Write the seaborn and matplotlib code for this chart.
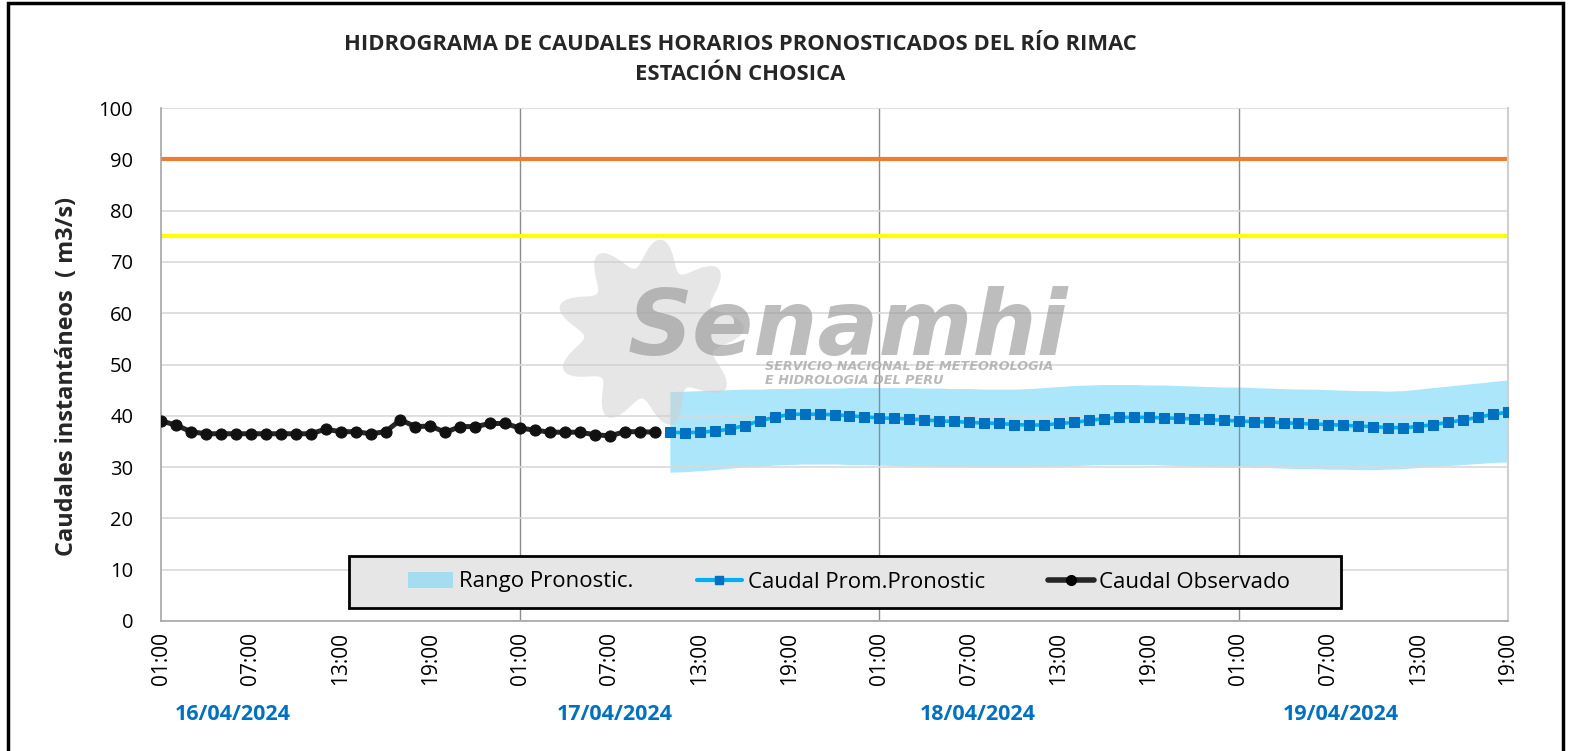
import numpy as np
import pandas as pd
import matplotlib
matplotlib.use("Agg")
import matplotlib.pyplot as plt
import matplotlib.transforms as mtransforms
from matplotlib.patches import Rectangle, Patch, Polygon
from matplotlib.lines import Line2D
import seaborn as sns

# ---------------- data ----------------
hour_labels = ["01:00", "07:00", "13:00", "19:00"]
date_labels = ["16/04/2024", "17/04/2024", "18/04/2024", "19/04/2024"]

caudal_observado = [39.0, 38.2, 36.9, 36.5, 36.5, 36.5, 36.5, 36.5, 36.5, 36.5,
                    36.5, 37.4, 36.9, 36.9, 36.5, 36.9, 39.2, 37.9, 38.0, 36.8,
                    37.9, 37.9, 38.5, 38.5, 37.6, 37.2, 36.8, 36.8, 36.8, 36.3,
                    36.1, 36.9, 36.9, 36.8]

caudal_pronostico = [36.8, 36.7, 36.8, 37.0, 37.4, 38.1, 39.0, 39.7,
                     40.3, 40.3, 40.3, 40.2, 40.0, 39.8, 39.6, 39.5,
                     39.4, 39.2, 39.0, 38.9, 38.7, 38.6, 38.5, 38.3,
                     38.2, 38.2, 38.5, 38.7, 39.1, 39.4, 39.7, 39.7,
                     39.7, 39.6, 39.5, 39.4, 39.3, 39.1, 39.0, 38.85,
                     38.8, 38.65, 38.5, 38.4, 38.3, 38.15, 38.0, 37.9,
                     37.7, 37.7, 37.9, 38.3, 38.7, 39.2, 39.7, 40.3, 40.7]

rango_superior = [44.7, 44.8, 44.9, 45.0, 45.1, 45.2, 45.2, 45.3,
                  45.3, 45.4, 45.4, 45.4, 45.5, 45.5, 45.5, 45.5,
                  45.5, 45.4, 45.4, 45.3, 45.3, 45.2, 45.2, 45.2,
                  45.3, 45.5, 45.7, 45.9, 46.0, 46.1, 46.1, 46.1,
                  46.0, 46.0, 45.9, 45.8, 45.7, 45.6, 45.6, 45.5,
                  45.4, 45.3, 45.2, 45.2, 45.1, 45.0, 44.9, 44.9,
                  44.8, 44.9, 45.2, 45.5, 45.8, 46.1, 46.4, 46.7, 47.0]

rango_inferior = [29.0, 29.1, 29.3, 29.5, 29.8, 30.0, 30.2, 30.4,
                  30.5, 30.6, 30.6, 30.6, 30.5, 30.5, 30.4, 30.3,
                  30.2, 30.2, 30.1, 30.1, 30.0, 30.0, 30.0, 30.0,
                  30.0, 30.1, 30.2, 30.3, 30.4, 30.5, 30.5, 30.5,
                  30.5, 30.4, 30.3, 30.2, 30.1, 30.0, 30.0, 29.9,
                  29.9, 29.8, 29.7, 29.7, 29.6, 29.6, 29.5, 29.5,
                  29.6, 29.7, 29.9, 30.1, 30.3, 30.5, 30.7, 30.9, 31.0]

umbral_naranja = 90
umbral_amarillo = 75

# ---------------- style ----------------
sns.set_theme(style="whitegrid")
plt.rcParams['font.family'] = ['Open Sans', 'DejaVu Sans']

W, H = 1569, 751
fig = plt.figure(figsize=(W / 100, H / 100), dpi=100)
fig.patch.set_facecolor("white")
ax = fig.add_axes([161 / W, 1 - 621 / H, (1508 - 161) / W, (621 - 108) / H])
ax.set_facecolor("white")

t_obs = np.arange(len(caudal_observado))
t_pro = np.arange(len(caudal_observado), len(caudal_observado) + len(caudal_pronostico))
df_obs = pd.DataFrame({"t": t_obs, "q": caudal_observado})
df_pro = pd.DataFrame({"t": t_pro, "q": caudal_pronostico})
n_total = len(caudal_observado) + len(caudal_pronostico) - 1

band_color = "#ABE6FB"
ax.fill_between(t_pro, rango_inferior, rango_superior, color=band_color, lw=0, zorder=1)

ax.axhline(umbral_naranja, color="#ED7D31", lw=3, zorder=2)
ax.axhline(umbral_amarillo, color="#FFFF00", lw=3, zorder=2)

sns.lineplot(data=df_pro, x="t", y="q", ax=ax, color="#00B0F0", lw=2.6,
             marker="s", markersize=6.5, markerfacecolor="#0070C0",
             markeredgecolor="#0070C0", zorder=4)
sns.lineplot(data=df_obs, x="t", y="q", ax=ax, color="#262626", lw=3.6,
             marker="o", markersize=8, markerfacecolor="#111111",
             markeredgecolor="#111111", zorder=5)

# axes
ax.set_xlim(0, n_total)
ax.set_ylim(0, 100)
ax.set_yticks(np.arange(0, 101, 10))
xt = np.arange(0, n_total + 1, 6)
ax.set_xticks(xt)
ax.set_xticklabels([hour_labels[i % 4] for i in range(len(xt))], rotation=90)
ax.set_xticks(np.arange(0, n_total + 1, 12), minor=True)
ax.tick_params(axis="x", which="major", length=0, pad=8, labelsize=15, colors="black")
ax.tick_params(axis="x", which="minor", length=6, width=1, color="#A0A0A0", direction="out")
ax.tick_params(axis="y", length=0, pad=20, labelsize=14.5, colors="black")
ax.set_xlabel("")
ax.set_ylabel("")

ax.grid(False)
ax.yaxis.grid(True, color="#D9D9D9", lw=1.2)
ax.set_axisbelow("line")
for d in range(1, len(date_labels)):
    ax.axvline(d * 24, color="#8C8C8C", lw=1, zorder=1.5)

for s in ["left", "bottom"]:
    ax.spines[s].set_visible(True)
    ax.spines[s].set_color("#A6A6A6")
    ax.spines[s].set_linewidth(1.2)
ax.spines["right"].set_visible(True)
ax.spines["right"].set_color("#D0D0D0")
ax.spines["right"].set_linewidth(1.5)
ax.spines["top"].set_visible(False)

# date labels under the hour labels
trans = mtransforms.blended_transform_factory(ax.transData, fig.transFigure)
date_pos = [4.8, 30.3, 54.6, 78.8]
for x, lab in zip(date_pos, date_labels):
    ax.text(x, 1 - 714 / H, lab, transform=trans, ha="center", va="center",
            fontsize=15.5, fontweight="bold", color="#0070C0")

# titles
fig.text(740 / W, 1 - 45 / H, "HIDROGRAMA DE CAUDALES HORARIOS PRONOSTICADOS DEL RÍO RIMAC",
         ha="center", va="center", fontsize=15.8, fontweight="bold")
fig.text(740 / W, 1 - 75 / H, "ESTACIÓN CHOSICA", ha="center", va="center",
         fontsize=15.8, fontweight="bold")
fig.text(67 / W, 1 - 376 / H, "Caudales instantáneos  ( m3/s)", rotation=90,
         ha="center", va="center", fontsize=16.9, fontweight="bold")

# watermark (logo)
cx, cy = 650, 333
theta = np.linspace(0, 2 * np.pi, 400)
r = 80 + 14 * np.cos(9 * theta + 0.5)
pts = np.column_stack([(cx + r * np.cos(theta)) / W, 1 - (cy + r * np.sin(theta)) / H])
fig.patches.append(Polygon(pts, closed=True, transform=fig.transFigure,
                           facecolor="#CFCFCF", edgecolor="none", alpha=0.5, zorder=6))
fig.text(848 / W, 1 - 355 / H, "Senamhi", ha="center", va="baseline", fontsize=65,
         family="DejaVu Sans", fontstyle="italic", fontweight="bold",
         color="#9A9A9A", alpha=0.65, zorder=7)
fig.text(765 / W, 1 - 367 / H, "SERVICIO NACIONAL DE METEOROLOGIA", ha="left", va="center",
         fontsize=9.2, family="DejaVu Sans", fontstyle="italic", fontweight="bold",
         color="#A8A8A8", alpha=0.8, zorder=7)
fig.text(765 / W, 1 - 381 / H, "E HIDROLOGIA DEL PERU", ha="left", va="center",
         fontsize=9.2, family="DejaVu Sans", fontstyle="italic", fontweight="bold",
         color="#A8A8A8", alpha=0.8, zorder=7)

# legend box + legend
fig.patches.append(Rectangle((349 / W, 1 - 608 / H), (1341 - 349) / W, 52 / H,
                             transform=fig.transFigure, facecolor="#E6E6E6",
                             edgecolor="black", lw=2, zorder=9))
handles = [
    Patch(facecolor="#A6DCF0", edgecolor="none", label="Rango Pronostic."),
    Line2D([0], [0], color="#00B0F0", lw=3, marker="s", markersize=6,
           markerfacecolor="#0070C0", markeredgecolor="#0070C0", label="Caudal Prom.Pronostic"),
    Line2D([0], [0], color="#262626", lw=4, marker="o", markersize=7,
           markerfacecolor="black", markeredgecolor="black", label="Caudal Observado"),
]
leg = fig.legend(handles=handles, ncol=3, loc="center",
                 bbox_to_anchor=(849 / W, 1 - 582 / H), bbox_transform=fig.transFigure,
                 frameon=False, fontsize=16, handlelength=2.05, handletextpad=0.25,
                 columnspacing=2.85, borderpad=0.2)
leg.set_zorder(10)
for t in leg.get_texts():
    t.set_color("black")

# outer border
fig.patches.append(Rectangle((8 / W, -0.01), (1563 - 8) / W, 1 - 3 / H + 0.01,
                             transform=fig.transFigure, fill=False, edgecolor="black",
                             lw=2.5, zorder=20))

fig.savefig("out.png", dpi=100)
